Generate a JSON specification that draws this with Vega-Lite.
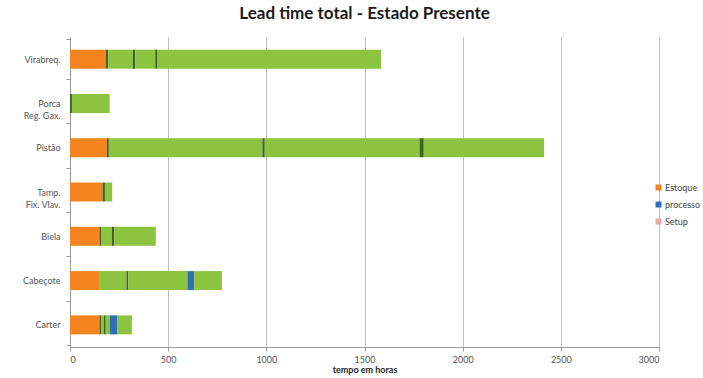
{
  "$schema": "https://vega.github.io/schema/vega-lite/v6.json",
  "autosize": {"type": "none"},
  "width": 589,
  "height": 310,
  "padding": {"left": 70, "top": 37, "right": 44, "bottom": 31},
  "background": "#ffffff",
  "title": {
    "text": "Lead time total - Estado Presente",
    "font": "Lato",
    "fontSize": 17,
    "fontWeight": "bold",
    "color": "#1a1a1a",
    "anchor": "middle",
    "offset": 10
  },
  "data": {
    "values": [
      {"peca": "Virabreq.", "seq": 1, "tipo": "Estoque", "horas": 183},
      {"peca": "Virabreq.", "seq": 2, "tipo": "Operação", "horas": 12},
      {"peca": "Virabreq.", "seq": 3, "tipo": "Espera", "horas": 125},
      {"peca": "Virabreq.", "seq": 4, "tipo": "Operação", "horas": 12},
      {"peca": "Virabreq.", "seq": 5, "tipo": "Espera", "horas": 102},
      {"peca": "Virabreq.", "seq": 6, "tipo": "Operação", "horas": 12},
      {"peca": "Virabreq.", "seq": 7, "tipo": "Espera", "horas": 1139},
      {"peca": "Porca Reg. Gax.", "seq": 1, "tipo": "Operação", "horas": 10},
      {"peca": "Porca Reg. Gax.", "seq": 2, "tipo": "Espera", "horas": 192},
      {"peca": "Pistão", "seq": 1, "tipo": "Estoque", "horas": 188},
      {"peca": "Pistão", "seq": 2, "tipo": "Operação", "horas": 10},
      {"peca": "Pistão", "seq": 3, "tipo": "Espera", "horas": 782},
      {"peca": "Pistão", "seq": 4, "tipo": "Operação", "horas": 12},
      {"peca": "Pistão", "seq": 5, "tipo": "Espera", "horas": 788},
      {"peca": "Pistão", "seq": 6, "tipo": "Operação", "horas": 22},
      {"peca": "Pistão", "seq": 7, "tipo": "Espera", "horas": 613},
      {"peca": "Tamp. Fix. Vlav.", "seq": 1, "tipo": "Estoque", "horas": 166},
      {"peca": "Tamp. Fix. Vlav.", "seq": 2, "tipo": "Operação", "horas": 12},
      {"peca": "Tamp. Fix. Vlav.", "seq": 3, "tipo": "Espera", "horas": 37},
      {"peca": "Biela", "seq": 1, "tipo": "Estoque", "horas": 150},
      {"peca": "Biela", "seq": 2, "tipo": "Operação", "horas": 8},
      {"peca": "Biela", "seq": 3, "tipo": "Espera", "horas": 55},
      {"peca": "Biela", "seq": 4, "tipo": "Operação", "horas": 12},
      {"peca": "Biela", "seq": 5, "tipo": "Espera", "horas": 212},
      {"peca": "Cabeçote", "seq": 1, "tipo": "Estoque", "horas": 152},
      {"peca": "Cabeçote", "seq": 2, "tipo": "Espera", "horas": 136},
      {"peca": "Cabeçote", "seq": 3, "tipo": "Operação", "horas": 8},
      {"peca": "Cabeçote", "seq": 4, "tipo": "Espera", "horas": 302},
      {"peca": "Cabeçote", "seq": 5, "tipo": "processo", "horas": 34},
      {"peca": "Cabeçote", "seq": 6, "tipo": "Espera", "horas": 142},
      {"peca": "Carter", "seq": 1, "tipo": "Estoque", "horas": 150},
      {"peca": "Carter", "seq": 2, "tipo": "Operação", "horas": 8},
      {"peca": "Carter", "seq": 3, "tipo": "Espera", "horas": 14},
      {"peca": "Carter", "seq": 4, "tipo": "Operação", "horas": 10},
      {"peca": "Carter", "seq": 5, "tipo": "Espera", "horas": 20},
      {"peca": "Carter", "seq": 6, "tipo": "processo", "horas": 40},
      {"peca": "Carter", "seq": 7, "tipo": "Espera", "horas": 73}
    ]
  },
  "mark": {"type": "bar", "size": 19},
  "encoding": {
    "y": {
      "field": "peca",
      "type": "nominal",
      "sort": ["Virabreq.", "Porca Reg. Gax.", "Pistão", "Tamp. Fix. Vlav.", "Biela", "Cabeçote", "Carter"],
      "title": null,
      "axis": {
        "labelExpr": "datum.label == 'Porca Reg. Gax.' ? ['Porca', 'Reg. Gax.'] : datum.label == 'Tamp. Fix. Vlav.' ? ['Tamp.', 'Fix. Vlav.'] : datum.label",
        "labelFont": "Lato",
        "labelFontSize": 9,
        "labelColor": "#555555",
        "labelPadding": 6,
        "labelLineHeight": 12,
        "tickBand": "extent",
        "tickSize": 4,
        "tickColor": "#999999",
        "domainColor": "#999999",
        "grid": false
      }
    },
    "x": {
      "field": "horas",
      "type": "quantitative",
      "stack": "zero",
      "scale": {"domain": [0, 3000], "nice": false},
      "title": "tempo em horas",
      "axis": {
        "values": [0, 500, 1000, 1500, 2000, 2500, 3000],
        "format": "d",
        "labelFont": "Lato",
        "labelFontSize": 9,
        "labelColor": "#555555",
        "titleFont": "Lato",
        "titleFontSize": 9,
        "titleFontWeight": "bold",
        "titleColor": "#222222",
        "titlePadding": 1,
        "grid": true,
        "gridColor": "#bdbdbd",
        "gridWidth": 1,
        "domainColor": "#999999",
        "tickColor": "#999999",
        "tickSize": 4,
        "labelPadding": 4
      }
    },
    "order": {"field": "seq", "type": "quantitative"},
    "color": {
      "field": "tipo",
      "type": "nominal",
      "scale": {
        "domain": ["Estoque", "processo", "Setup", "Espera", "Operação"],
        "range": ["#f5841f", "#2e6fb8", "#e3a9a9", "#8cc43f", "#3f6425"]
      },
      "legend": {
        "values": ["Estoque", "processo", "Setup"],
        "title": null,
        "orient": "none",
        "legendX": 584,
        "legendY": 146,
        "symbolType": "square",
        "symbolSize": 36,
        "symbolStrokeWidth": 0,
        "labelFont": "Lato",
        "labelFontSize": 9,
        "labelColor": "#444444",
        "labelOffset": 2,
        "rowPadding": 7
      }
    }
  },
  "config": {"view": {"stroke": null}}
}
